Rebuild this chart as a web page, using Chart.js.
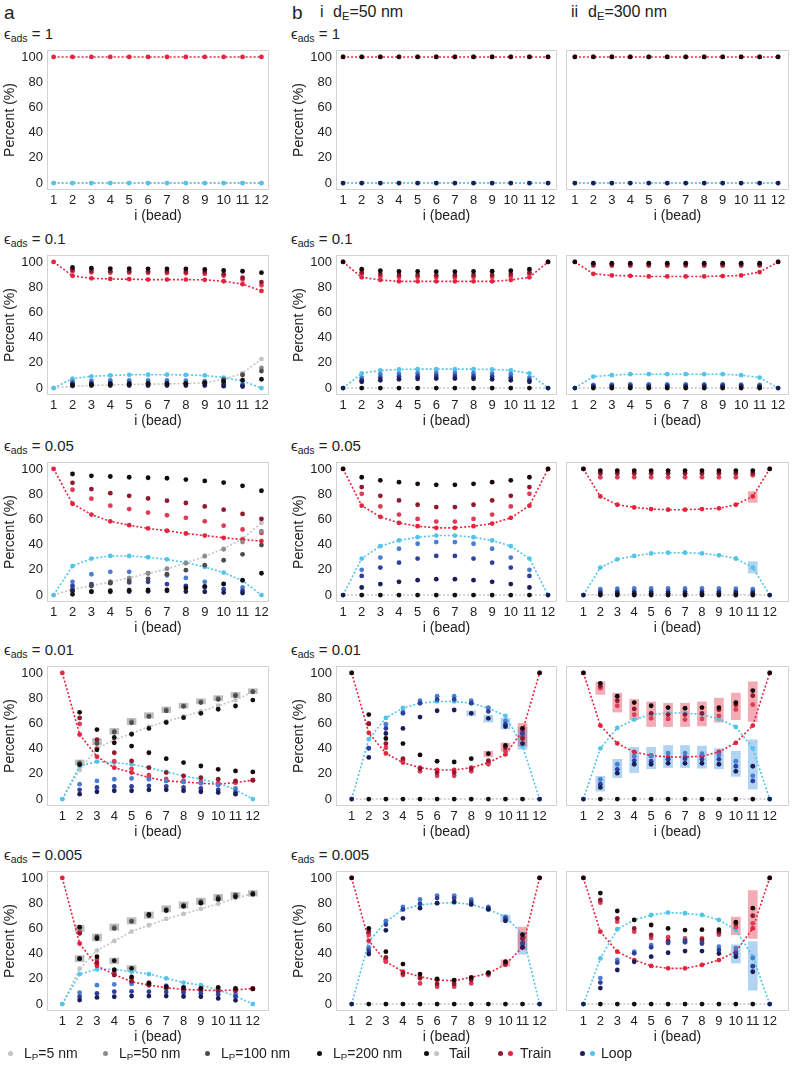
<!DOCTYPE html>
<html>
<head>
<meta charset="utf-8">
<script src="https://cdn.jsdelivr.net/npm/chart.js@4.4.0/dist/chart.umd.min.js"></script>
<style>
  body { margin: 0; background: #fff; font-family: "Liberation Sans", Arial, sans-serif; color: #222; }
  #page { position: relative; width: 800px; height: 1078px; overflow: hidden; }
  canvas { position: absolute; }
  .t { position: absolute; white-space: nowrap; line-height: 1; }
  .t sub { font-size: 70%; vertical-align: -0.25em; }
  .hd { font-size: 19px; }
  .sub { font-size: 16px; }
  .eps { font-size: 15px; }
  .lg { font-size: 14px; }
  .dot { position: absolute; width: 5px; height: 5px; border-radius: 50%; }
</style>
</head>
<body>
<div id="page"></div>
<script>
// beads along the chain and axis ticks
const beads = [1, 2, 3, 4, 5, 6, 7, 8, 9, 10, 11, 12];
const yTicks = [0, 20, 40, 60, 80, 100];
const epsLabels = ['1', '0.1', '0.05', '0.01', '0.005'];
const lpLabels = ['5', '50', '100', '200'];

// each *_train / *_loop / *_tail holds [LP=5, LP=50, LP=100, LP=200]
// --- a: free chain ---
const a1_train = [[100, 100, 100, 100, 100, 100, 100, 100, 100, 100, 100, 100]];
const a1_loop = [[0, 0, 0, 0, 0, 0, 0, 0, 0, 0, 0, 0]];
const a1_tail = [[0, 0, 0, 0, 0, 0, 0, 0, 0, 0, 0, 0]];

const a2_train = [
  [100, 89, 87, 86.5, 86.3, 86, 86, 86, 85.8, 84.7, 82.4, 77],
  [null, 92.5, 91.7, 91.5, 91.5, 91.3, 91.2, 91, 90.5, 89, 86, 81.5],
  [null, 93.8, 93, 92.7, 92.7, 92.5, 92.5, 92.3, 92, 90.3, 87.5, 84],
  [null, 95.6, 95, 94.7, 94.7, 94.5, 94.5, 94.5, 94, 93.3, 92.6, 91.5]];
const a2_loop = [
  [0, 7.5, 9.3, 10, 10.5, 10.6, 10.6, 10.4, 10, 8.3, 5.7, 0],
  [null, 5.2, 5.7, 6, 6, 6, 6, 5.8, 5.5, 4.5, 3, null],
  [null, 3.6, 3.8, 4, 4, 4, 4, 3.8, 3.6, 3, 2.2, null],
  [null, 1.8, 2, 2, 2, 2, 2, 2, 2, 1.5, 1.2, null]];
const a2_tail = [
  [0, 1.5, 2, 2.5, 2.8, 3, 3.3, 3.6, 4.2, 7, 11.9, 23],
  [null, 2.3, 2.6, 2.5, 2.5, 2.7, 2.8, 3.2, 4, 6.5, 11, 16],
  [null, 2.6, 3.2, 3.3, 3.3, 3.5, 3.5, 3.9, 4.4, 6.7, 10.3, 13.5],
  [null, 2.6, 3, 3.3, 3.3, 3.5, 3.5, 3.5, 4, 5.2, 6.2, 7]];

const a3_train = [
  [100, 72.4, 63.8, 58.5, 55.4, 52.8, 51, 48.8, 47.2, 45.4, 44, 42.8],
  [null, 83.5, 76.4, 70.9, 68.2, 65.4, 63.3, 61.2, 58.5, 55, 52, 49.3],
  [null, 89, 84, 80.8, 78.7, 76.6, 74.8, 73, 70.3, 67.7, 64.3, 60.4],
  [null, 96, 94.5, 94, 93.4, 93, 92.6, 91.6, 90.5, 89.2, 86.6, 82.7]];
const a3_loop = [
  [0, 23, 28.9, 31, 31, 30, 28.3, 25.7, 22.3, 17.8, 11.3, 0],
  [null, 10.5, 16.5, 18.4, 18.4, 17.3, 15.7, 13.6, 10.5, 8.7, 6, null],
  [null, 7.3, 8.7, 9.4, 10, 10.5, 8.7, 7.3, 6, 4.7, 3.4, null],
  [null, 3.4, 2.6, 2.6, 2.8, 3, 3.4, 2.8, 2.6, 2, 1.6, null]];
const a3_tail = [
  [0, 4.6, 7.3, 10.5, 13.6, 17.2, 20.7, 25.5, 30.5, 36.8, 44.7, 57.2],
  [null, 6, 7.1, 10.7, 13.4, 17.3, 21, 25.2, 31, 36.3, 42, 50.7],
  [null, 3.7, 7.3, 9.8, 11.3, 12.9, 16.5, 19.7, 23.7, 27.6, 32.3, 39.6],
  [null, 0.6, 2.9, 3.4, 3.8, 4, 4, 5.6, 6.9, 8.8, 11.8, 17.3]];

const a4_train = [
  [100, 51.2, 33.6, 24.9, 21, 17, 14.4, 13.6, 12.6, 11.8, 13, 15],
  [null, 59.6, 40, 30, 24, 19, 16, 14.5, 13.5, 12.5, 13.5, 15],
  [null, 64.3, 47.2, 36.7, 30.2, 24.9, 21, 18.4, 17, 15.7, 14.4, 15],
  [null, 68.8, 55.1, 44.6, 42, 36.7, 32, 28.9, 26.2, 23.6, 22.3, 21.5]];
const a4_loop = [
  [0, 26.2, 29.7, 28.9, 27.6, 24.9, 21.5, 18.4, 15.7, 12.6, 7.3, 0],
  [null, 11.8, 14.4, 15.7, 16.3, 15.7, 14.4, 13.6, 12.6, 11, 8.4, null],
  [null, 7.3, 9.2, 10, 10, 10.5, 10, 9.2, 8.4, 7.3, 5.2, null],
  [null, 3.9, 5.8, 6.6, 6.6, 7.3, 7.3, 6.6, 5.8, 5.2, 3.9, null]];
const a4_tail = [
  [0, 23, 40, 47, 52, 57.5, 61.5, 65.5, 69.5, 74, 78.5, 85],
  [null, 29, 46, 54, 61.5, 66, 71, 74, 77.4, 80, 82.7, 85.5],
  [null, 28, 44, 53, 60.5, 65.5, 70, 73.5, 76.5, 79, 82, 85],
  [null, 27.3, 39, 48.8, 51.4, 56, 60.7, 64.5, 68, 71.2, 73.8, 78.5]];
const a4_tailBox = [[2, 27, 31], [3, 43, 48], [4, 51.5, 56], [5, 59, 64], [6, 64, 68.5], [7, 68.5, 73], [8, 72, 76], [9, 75.5, 79.5], [10, 78, 82], [11, 80.5, 84.5], [12, 83.5, 87.5]];

const a5_train = [
  [100, 48, 30.2, 23.5, 17.7, 15, 13, 11.6, 11.1, 10.6, 11.1, 12.4],
  [null, 57.4, 35.4, 24.9, 20.4, 17, 13.2, 11.6, 11, 11, 11.6, 12.5],
  [null, 56, 32.8, 23, 18, 15, 12.5, 11, 10.5, 10, 10.5, 12],
  [null, 61, 37.6, 27, 21.5, 16.5, 13.8, 13, 12.5, 13.2, 12.5, 12]];
const a5_loop = [
  [0, 23.8, 27.5, 27.5, 25.7, 23.8, 20.4, 17, 15, 11.1, 6.3, 0],
  [null, 9, 15, 15.6, 16, 15.5, 14.5, 13.5, 12.5, 11, 8, null],
  [null, 5.8, 8.5, 9.8, 10, 9.8, 9.5, 9, 8.5, 7.5, 6, null],
  [null, 3.2, 5.3, 5.8, 6.3, 6.3, 6.3, 6, 5.8, 4.5, 3, null]];
const a5_tail = [
  [0, 28, 42.5, 50, 57.5, 62.5, 67.5, 71.5, 75.5, 79.5, 84, 87.6],
  [null, 60, 52.5, 61, 66, 70.6, 75.5, 78.6, 81.5, 84, 86, 87.5],
  [null, 36, 53.5, 60, 65.5, 70, 74, 78, 81, 84.5, 86.5, 88],
  [null, 36, 52, 34.4, 28.3, 71, 74.5, 77.5, 80, 83, 85, 87]];
const a5_tailBox = [[2, 57.5, 62.5], [2, 33.5, 38.5], [3, 50, 55.5], [4, 58.5, 63.5], [4, 32, 36.5], [5, 63.5, 68.5], [5, 26, 30.5], [6, 68, 73], [7, 73, 78], [8, 76, 81], [9, 79, 84], [10, 82, 87], [11, 84, 88.5], [12, 85.5, 90]];

// --- b i: dE = 50 nm ---
const b1_train = [
  [100, 100, 100, 100, 100, 100, 100, 100, 100, 100, 100, 100],
  [null, null, null, null, null, null, null, null, null, null, null, null],
  [null, null, null, null, null, null, null, null, null, null, null, null],
  [100, 100, 100, 100, 100, 100, 100, 100, 100, 100, 100, 100]];
const b1_loop = [
  [0, 0, 0, 0, 0, 0, 0, 0, 0, 0, 0, 0],
  [null, null, null, null, null, null, null, null, null, null, null, null],
  [null, null, null, null, null, null, null, null, null, null, null, null],
  [0, 0, 0, 0, 0, 0, 0, 0, 0, 0, 0, 0]];
const b1_tail = [[0, 0, 0, 0, 0, 0, 0, 0, 0, 0, 0, 0]];

const b2_train = [
  [100, 87.8, 85.7, 84.6, 84.6, 84.6, 84.6, 84.6, 84.6, 85.7, 87.8, 100],
  [null, 90.4, 88.5, 88, 88, 87.8, 87.8, 88, 88, 88.5, 90.4, null],
  [null, 91.7, 90.4, 89.6, 89.6, 89.4, 89.4, 89.6, 89.6, 90.4, 91.7, null],
  [100, 94.3, 93, 92.4, 92.4, 92.2, 92.2, 92.4, 92.6, 93, 94.3, 100]];
const b2_loop = [
  [0, 11.7, 14, 14.8, 15, 15, 15, 15, 14.8, 14, 11.7, 0],
  [null, 8.3, 11, 11.5, 11.8, 12, 12, 11.8, 11.5, 11, 8.3, null],
  [null, 6.2, 8.3, 9.1, 9.4, 9.6, 9.6, 9.4, 9.1, 8.3, 6.2, null],
  [0, 5, 6.2, 7, 7.3, 7.5, 7.5, 7.3, 7, 6.2, 5, 0]];
const b2_tail = [
  [0, 0, 0, 0, 0, 0, 0, 0, 0, 0, 0, 0],
  [], [],
  [null, 0, 0, 0, 0, 0, 0, 0, 0, 0, 0, null]];

const b3_train = [
  [100, 70.9, 62, 57.2, 54.6, 53.3, 53.3, 54.6, 56.7, 61.2, 70.9, 100],
  [null, 80.3, 70.3, 63.8, 60.4, 58.3, 58.3, 60.4, 63.8, 70.3, 80.3, null],
  [null, 85.6, 78.7, 75, 71.6, 69.8, 69.8, 71.6, 75, 78.7, 85.6, null],
  [100, 93.4, 91, 89.5, 88.2, 87.4, 87.4, 88.2, 89.5, 91, 93.4, 100]];
const b3_loop = [
  [0, 28.9, 38.8, 43.3, 45.9, 47.2, 47.2, 45.9, 43.3, 38.8, 28.9, 0],
  [null, 20, 29.7, 36.7, 40.7, 42, 42, 40.7, 36.7, 29.7, 20, null],
  [null, 15.2, 21.8, 25.7, 28.9, 31, 31, 28.9, 25.7, 21.8, 15.2, null],
  [0, 6, 8.7, 10.5, 11.8, 12.6, 12.6, 11.8, 10.5, 8.7, 6, 0]];
const b3_tail = b2_tail;

const b4_train = [
  [100, 52.5, 36.2, 28.9, 24.9, 23.1, 23.1, 24.9, 28.9, 35.4, 54, 100],
  [null, 60, 40.7, 31, 22, 18.4, 18.4, 22, 27.6, 38, 50, null],
  [null, 59.6, 44, 32, 24, 21, 21, 24, 30.5, 40.7, 48, null],
  [100, 67, 48, 44, 35, 30, 29.4, 32, 36, 42.5, 56, 100]];
const b4_loop = [
  [0, 47.5, 64.3, 72.2, 76, 77.4, 77.4, 76, 72, 66, 42, 0],
  [null, 40, 59.3, 69, 78, 81.6, 81.6, 78, 72.4, 62, 50, null],
  [null, 40.4, 56, 68, 76, 79, 79, 76, 69.5, 59.3, 52, null],
  [0, 33, 52, 56, 65, 70, 70.6, 68, 64, 57.5, 44, 0]];
const b4_tail = b2_tail;
const b4_trainBox = [[9, 33.5, 38], [10, 38, 44.5], [11, 42, 60]];
const b4_loopBox = [[8, 66, 70], [9, 61, 66.5], [10, 55.5, 64], [11, 39.5, 57]];

const b5_train = [
  [100, 50.3, 33.6, 25.7, 21.7, 19, 18.5, 21.2, 24.3, 31.5, 45, 100],
  [null, 54.8, 34, 23, 16.4, 13.8, 13.8, 16.4, 23, 31, 48, null],
  [null, 57.4, 37, 24.3, 20.4, 16, 16, 19, 24, 32, 52, null],
  [100, 60, 41.5, 31.7, 23.8, 20, 19, 21, 25, 33.6, 55, 100]];
const b5_loop = [
  [0, 49.5, 65.3, 75, 78.6, 80, 80.4, 79, 75, 69.3, 55.5, 0],
  [null, 45, 66, 77, 83, 86, 86, 83, 77, 69, 52, null],
  [null, 42.3, 63, 75, 79.6, 84, 84, 81, 76, 68, 48, null],
  [0, 39.7, 58.5, 68, 76, 80, 81, 79, 75, 66, 45, 0]];
const b5_tail = b2_tail;
const b5_trainBox = [[10, 30, 35], [11, 43, 61]];
const b5_loopBox = [[10, 65, 70.5], [11, 39.5, 57]];

// --- b ii: dE = 300 nm ---
const c1_train = b1_train;
const c1_loop = b1_loop;
const c1_tail = b1_tail;

const c2_train = [
  [100, 90.6, 89.3, 89, 88.5, 88.5, 88.5, 88.5, 88.8, 89.3, 92, 100],
  [null, 97, 97, 97, 97, 97, 97, 97, 97, 97, 97, null],
  [null, 97.8, 97.8, 97.8, 97.8, 97.8, 97.8, 97.8, 97.8, 97.8, 97.8, null],
  [100, 99, 99, 99, 99, 99, 99, 99, 99, 99, 99, 100]];
const c2_loop = [
  [0, 9.1, 10.2, 11, 11, 11, 11, 11, 11, 10.2, 8.3, 0],
  [null, 2.6, 2.8, 3, 3, 3, 3, 3, 3, 2.8, 2.6, null],
  [null, 1.8, 2, 2, 2, 2, 2, 2, 2, 2, 1.8, null],
  [0, 0.8, 0.9, 0.9, 0.9, 0.9, 0.9, 0.9, 0.9, 0.9, 0.8, 0]];
const c2_tail = b2_tail;

const c3_train = [
  [100, 78.2, 71.6, 69.5, 68.2, 67.7, 67.7, 68.2, 68.8, 71.6, 78.2, 100],
  [null, 93.4, 93.4, 93.4, 93.4, 93.4, 93.4, 93.4, 93.4, 93.4, 95, null],
  [null, 96.6, 96.6, 96.6, 96.6, 96.6, 96.6, 96.6, 96.6, 96.6, 96.6, null],
  [100, 98.7, 98.7, 98.7, 98.7, 98.7, 98.7, 98.7, 98.7, 98.7, 98.7, 100]];
const c3_loop = [
  [0, 21.8, 28.3, 31, 33, 33.6, 33.6, 33, 31.5, 29, 21.8, 0],
  [null, 4.7, 5, 5.2, 5.2, 5.2, 5.2, 5.2, 5.2, 5, 4.7, null],
  [null, 2.6, 2.8, 2.8, 2.8, 2.8, 2.8, 2.8, 2.8, 2.8, 2.6, null],
  [0, 1.2, 1.4, 1.4, 1.4, 1.4, 1.4, 1.4, 1.4, 1.4, 1.2, 0]];
const c3_tail = b2_tail;
const c3_trainBox = [[11, 73.5, 82]];
const c3_loopBox = [[11, 17.5, 26.5]];

const c4_train = [
  [100, 58.3, 44.1, 37.3, 34.6, 33.3, 33.3, 34, 37.3, 44.6, 58.3, 100],
  [null, 87.9, 74, 67, 64, 63.5, 63, 63.5, 66, 71, 74.8, null],
  [null, 89.5, 78, 71.5, 68, 67, 67, 68, 70.9, 74.8, 82, null],
  [100, 91.8, 81.5, 76.5, 74, 72.5, 72, 72.5, 72.5, 76.5, 86, 100]];
const c4_loop = [
  [0, 40.2, 56.4, 63, 67, 68.2, 68.2, 67, 63.5, 57.2, 40.2, 0],
  [null, 15.5, 27.6, 34, 34, 36.5, 36.5, 36, 35, 30, 18.4, null],
  [null, 11.8, 23.6, 30.5, 30, 31.5, 32, 31.5, 31.5, 26, 14.4, null],
  [0, 9.2, 20.5, 27.6, 27.6, 28.3, 28.3, 28.3, 27.6, 22, 26, 0]];
const c4_tail = b2_tail;
const c4_trainBox = [[2, 83, 93], [3, 69, 84], [4, 63, 79], [5, 57.5, 77], [6, 57.5, 76], [7, 57.5, 76], [8, 58, 77], [9, 61, 80], [10, 63, 84], [11, 61.5, 93]];
const c4_loopBox = [[2, 6.3, 18], [3, 17, 31.5], [4, 21, 41], [5, 24, 41], [6, 25, 42.5], [7, 25, 42.5], [8, 24.5, 42], [9, 24, 40], [10, 18, 38], [11, 8, 47]];

const c5_train = [
  [100, 57.4, 41.5, 34.9, 30.2, 28.3, 28.3, 31, 34.9, 41.5, 60, 100],
  [null, 80.4, 65.3, 57.4, 52.4, 53, 52, 52, 55, 61, 64, null],
  [null, 82.5, 68, 60, 54.8, 50, 50, 51, 57, 63.5, 70, null],
  [100, 88, 73.8, 66.7, 62.7, 60, 58.7, 59, 59, 65, 76, 100]];
const c5_loop = [
  [0, 36.2, 59.3, 66.7, 70.6, 72.5, 72, 70.6, 66.7, 58.7, 37.6, 0],
  [null, 20.6, 35, 41.5, 46.8, 49.5, 50.8, 49.5, 45.5, 44.4, 36.5, null],
  [null, 17, 32.8, 40.2, 45, 48.5, 49, 48, 42.9, 40, 30, null],
  [0, 12.7, 27, 33.5, 37.6, 40.7, 42, 42, 40, 37.6, 25.6, 0]];
const c5_tail = b2_tail;
const c5_trainBox = [[10, 55, 69], [11, 52, 90]];
const c5_loopBox = [[10, 32.5, 47], [11, 11, 49.5]];

// colours: LP=5 (line), 50, 100, 200
const trainCols = ['#e4243e', '#dc3c55', '#8f1a2d', '#160909'];
const loopCols = ['#52c4ea', '#4a7ed0', '#2f3f9c', '#1b1e56'];
const tailCols = ['#c4c4c4', '#8c8c8c', '#4c4c4c', '#111111'];
const boxCols = { train: 'rgba(228,70,90,0.45)', loop: 'rgba(80,160,225,0.45)', tail: 'rgba(110,110,110,0.45)' };

// layout
const colGeo = [
  { left: 2, width: 273, yW: 45, padR: 6, xmin: 0.65, xmax: 12.4, yLab: true, titleX: 0 },
  { left: 278, width: 285, yW: 58, padR: 6, xmin: 0.62, xmax: 12.48, yLab: true, titleX: 13 },
  { left: 562, width: 236, yW: 3, padR: 9, xmin: 0.52, xmax: 12.59, yLab: false, titleX: 0 }
];
const rowTop = [50, 255, 462, 666, 871];
const canvasH = 184;

Chart.defaults.font.family = '"Liberation Sans", Arial, sans-serif';
Chart.defaults.color = '#222';

const boxPlugin = {
  id: 'frame',
  beforeDatasetsDraw(chart) {
    const a = chart.chartArea, c = chart.ctx;
    c.save();
    c.strokeStyle = '#d2d2d2';
    c.lineWidth = 1;
    c.strokeRect(Math.round(a.left) + 0.5, Math.round(a.top) + 0.5, Math.round(a.width) - 1, Math.round(a.height) - 1);
    c.restore();
  }
};

const page = document.getElementById('page');

function xy(vals) {
  return beads.map((b, i) => ({ x: b, y: vals[i] === undefined ? null : vals[i] }));
}

function typeSets(vals, cols, lineOrder) {
  const sets = [];
  vals.forEach((v, k) => {
    if (!v || !v.length) return;
    if (k === 0) {
      sets.push({ type: 'line', data: xy(v), borderColor: cols[0], backgroundColor: cols[0],
        borderDash: [2, 2], borderWidth: 1.6, pointRadius: 2.4, pointBorderWidth: 0, order: lineOrder });
    } else {
      sets.push({ type: 'scatter', data: xy(v), borderColor: cols[k], backgroundColor: cols[k],
        pointRadius: 2.4, pointBorderWidth: 0, order: 4 - k });
    }
  });
  return sets;
}

function boxSet(list, color) {
  return { type: 'bar', data: list.map(r => ({ x: r[0], y: [r[1], r[2]] })), backgroundColor: color,
    barThickness: 9, grouped: false, order: 20 };
}

function panel(col, row, p) {
  const g = colGeo[col];
  const cv = document.createElement('canvas');
  cv.style.left = g.left + 'px';
  cv.style.top = (rowTop[row] - 6) + 'px';
  cv.style.width = g.width + 'px';
  cv.style.height = canvasH + 'px';
  page.appendChild(cv);

  let datasets = [];
  if (p.trainBox) datasets.push(boxSet(p.trainBox, boxCols.train));
  if (p.loopBox) datasets.push(boxSet(p.loopBox, boxCols.loop));
  if (p.tailBox) datasets.push(boxSet(p.tailBox, boxCols.tail));
  datasets = datasets.concat(typeSets(p.tail, tailCols, 8), typeSets(p.loop, loopCols, 7), typeSets(p.train, trainCols, 6));

  new Chart(cv, {
    type: 'scatter',
    data: { datasets },
    options: {
      responsive: false,
      animation: false,
      events: [],
      layout: { padding: { top: 6, bottom: 2, left: 0, right: g.padR } },
      plugins: { legend: { display: false }, tooltip: { enabled: false } },
      scales: {
        x: {
          type: 'linear', min: g.xmin, max: g.xmax,
          grid: { display: false, drawTicks: false }, border: { display: false },
          afterBuildTicks: s => { s.ticks = beads.map(v => ({ value: v })); },
          afterFit: s => { s.height = 36; s.paddingLeft = 0; s.paddingRight = 0; },
          ticks: { autoSkip: false, maxRotation: 0, padding: 3, font: { size: 13 }, color: '#222' },
          title: { display: true, text: 'i (bead)', font: { size: 14 }, color: '#222', padding: { top: 0, bottom: 1 } }
        },
        y: {
          type: 'linear', min: -5.5, max: 105.5,
          grid: { display: false, drawTicks: false }, border: { display: false },
          afterBuildTicks: s => { s.ticks = yTicks.map(v => ({ value: v })); },
          afterFit: s => { s.width = g.yW; s.paddingTop = 0; s.paddingBottom = 0; },
          ticks: { display: g.yLab, padding: 4, font: { size: 13 }, color: '#222' },
          title: { display: g.yLab, text: 'Percent (%)', font: { size: 14 }, color: '#222', padding: { top: g.titleX, bottom: 0 } }
        }
      }
    },
    plugins: [boxPlugin]
  });
}

function text(html, x, y, cls) {
  const d = document.createElement('div');
  d.className = 't ' + cls;
  d.style.left = x + 'px';
  d.style.top = y + 'px';
  d.innerHTML = html;
  page.appendChild(d);
}

// headers
text('a', 4, 3, 'hd');
text('b', 292, 3, 'hd');
text('i', 320, 4, 'sub');
text('d<sub>E</sub>=50 nm', 333, 4, 'sub');
text('ii', 571, 4, 'sub');
text('d<sub>E</sub>=300 nm', 588, 4, 'sub');

epsLabels.forEach((e, r) => {
  const y = rowTop[r] - 24;
  text('ϵ<sub>ads</sub> = ' + e, 4, y, 'eps');
  text('ϵ<sub>ads</sub> = ' + e, 291, y, 'eps');
});

const panels = [
  [0, 0, { train: a1_train, loop: a1_loop, tail: a1_tail }],
  [0, 1, { train: a2_train, loop: a2_loop, tail: a2_tail }],
  [0, 2, { train: a3_train, loop: a3_loop, tail: a3_tail }],
  [0, 3, { train: a4_train, loop: a4_loop, tail: a4_tail, tailBox: a4_tailBox }],
  [0, 4, { train: a5_train, loop: a5_loop, tail: a5_tail, tailBox: a5_tailBox }],
  [1, 0, { train: b1_train, loop: b1_loop, tail: b1_tail }],
  [1, 1, { train: b2_train, loop: b2_loop, tail: b2_tail }],
  [1, 2, { train: b3_train, loop: b3_loop, tail: b3_tail }],
  [1, 3, { train: b4_train, loop: b4_loop, tail: b4_tail, trainBox: b4_trainBox, loopBox: b4_loopBox }],
  [1, 4, { train: b5_train, loop: b5_loop, tail: b5_tail, trainBox: b5_trainBox, loopBox: b5_loopBox }],
  [2, 0, { train: c1_train, loop: c1_loop, tail: c1_tail }],
  [2, 1, { train: c2_train, loop: c2_loop, tail: c2_tail }],
  [2, 2, { train: c3_train, loop: c3_loop, tail: c3_tail, trainBox: c3_trainBox, loopBox: c3_loopBox }],
  [2, 3, { train: c4_train, loop: c4_loop, tail: c4_tail, trainBox: c4_trainBox, loopBox: c4_loopBox }],
  [2, 4, { train: c5_train, loop: c5_loop, tail: c5_tail, trainBox: c5_trainBox, loopBox: c5_loopBox }]
];
panels.forEach(p => panel(p[0], p[1], p[2]));

// legend row
const legY = 1046;
function dot(x, color) {
  const d = document.createElement('div');
  d.className = 'dot';
  d.style.left = (x - 2.5) + 'px';
  d.style.top = (legY + 5) + 'px';
  d.style.background = color;
  page.appendChild(d);
}
const lpX = [10, 105, 207, 319];
lpLabels.forEach((lp, k) => {
  dot(lpX[k], tailCols[k]);
  text('L<sub>P</sub>=' + lp + ' nm', lpX[k] + 14, legY, 'lg');
});
dot(426, tailCols[3]); dot(436, tailCols[0]); text('Tail', 449, legY, 'lg');
dot(500, trainCols[2]); dot(510, trainCols[0]); text('Train', 520, legY, 'lg');
dot(582, loopCols[3]); dot(592, loopCols[0]); text('Loop', 601, legY, 'lg');
</script>
</body>
</html>
